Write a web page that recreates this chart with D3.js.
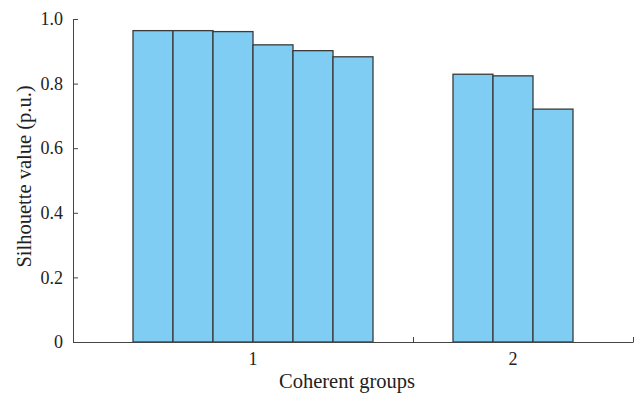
<!DOCTYPE html>
<html>
<head>
<meta charset="utf-8">
<script src="https://cdn.jsdelivr.net/npm/d3@7/dist/d3.min.js"></script>
<style>
  html, body { margin: 0; padding: 0; background: #fff; }
  svg { display: block; }
  svg text { font-family: "Liberation Serif", "Times New Roman", Times, serif; fill: #222; }
</style>
</head>
<body>
<svg id="chart" width="640" height="393"></svg>
<script>
// Silhouette values of the members of each coherent group
const groups = ["1", "2"];
const group1Values = [0.964, 0.964, 0.961, 0.920, 0.902, 0.883];
const group2Values = [0.829, 0.824, 0.721];
const yTicks = [0, 0.2, 0.4, 0.6, 0.8, 1.0];
const yTickLabels = ["0", "0.2", "0.4", "0.6", "0.8", "1.0"];

const seriesByGroup = [group1Values, group2Values];

const svg = d3.select("#chart");
const margin = { left: 73, right: 7, top: 19, bottom: 51 };
const W = 640, H = 393;

// slot layout along the x axis: each bar takes one slot
const slotsTotal = 14;
const groupStart = [1.5, 9.5];
const groupEnd = [8.5, 14];

const x = d3.scaleLinear().domain([0, slotsTotal]).range([margin.left, W - margin.right]);
const y = d3.scaleLinear().domain([0, 1]).range([H - margin.bottom, margin.top]);

const bars = [];
seriesByGroup.forEach((vals, g) => {
  vals.forEach((v, i) => bars.push({ g, i, v, s: groupStart[g] + i }));
});

// bars
svg.append("g").selectAll("rect").data(bars).join("rect")
  .attr("x", d => x(d.s))
  .attr("width", d => x(d.s + 1) - x(d.s))
  .attr("y", d => y(d.v))
  .attr("height", d => y(0) - y(d.v))
  .attr("fill", "#7fcdf3")
  .attr("stroke", "#3b3b3b")
  .attr("stroke-width", 1.3);

// y axis
const yAxis = svg.append("g")
  .attr("transform", `translate(${margin.left},0)`)
  .call(d3.axisLeft(y).tickValues(yTicks)
    .tickFormat((d, i) => yTickLabels[i])
    .tickSizeInner(-5).tickSizeOuter(0).tickPadding(10));
yAxis.attr("font-family", null);
yAxis.select(".domain").attr("stroke", "#444");
yAxis.selectAll(".tick line").attr("stroke", "#444");
yAxis.selectAll(".tick text").attr("font-size", 18).attr("fill", "#222");

// x axis: group boundaries carry the tick marks, labels sit under each group
const xAxis = svg.append("g")
  .attr("transform", `translate(0,${y(0)})`)
  .call(d3.axisBottom(x).tickValues(groupEnd).tickFormat("")
    .tickSizeInner(-5).tickSizeOuter(0));
xAxis.select(".domain").attr("stroke", "#444");
xAxis.selectAll(".tick line").attr("stroke", "#444");

svg.append("g").selectAll("text").data(groups).join("text")
  .attr("x", (d, g) => x(groupStart[g] + seriesByGroup[g].length / 2))
  .attr("y", y(0) + 23)
  .attr("text-anchor", "middle")
  .attr("font-size", 18)
  .text(d => d);

// axis titles
svg.append("text")
  .attr("x", (x(0) + x(slotsTotal)) / 2 - 6)
  .attr("y", 388)
  .attr("text-anchor", "middle")
  .attr("font-size", 20.5)
  .text("Coherent groups");

svg.append("text")
  .attr("transform", `translate(31,${(y(0) + y(1)) / 2 - 4}) rotate(-90)`)
  .attr("text-anchor", "middle")
  .attr("font-size", 20.5)
  .text("Silhouette value (p.u.)");
</script>
</body>
</html>
